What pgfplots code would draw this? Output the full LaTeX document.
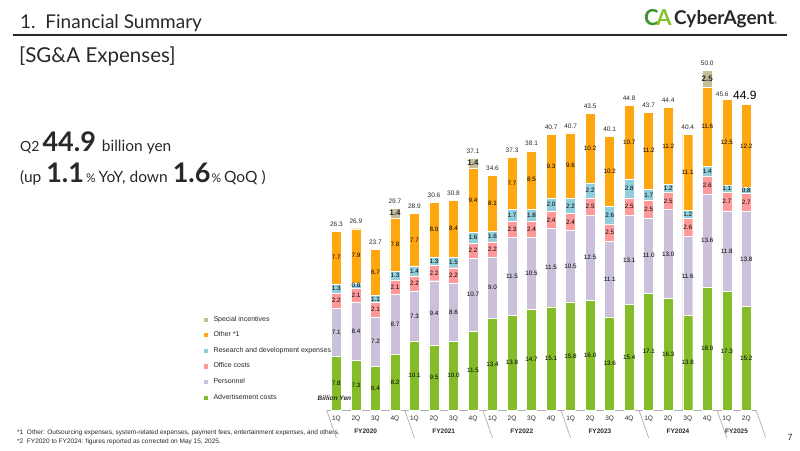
\documentclass[border=0pt]{standalone}
\usepackage{pgfplots}
\pgfplotsset{compat=1.18}
\usepackage{pgfplotstable}
\usepackage{fontspec}
\setmainfont{Liberation Sans}
\newfontfamily\headfont{Lato}

\definecolor{adv}{RGB}{132,189,41}
\definecolor{per}{RGB}{204,193,218}
\definecolor{off}{RGB}{255,153,153}
\definecolor{rnd}{RGB}{146,205,220}
\definecolor{oth}{RGB}{255,167,17}
\definecolor{spe}{RGB}{196,189,151}
\definecolor{txt}{RGB}{40,40,40}
\definecolor{boxgray}{RGB}{175,175,175}
\definecolor{logoC}{RGB}{60,150,45}
\definecolor{logoA}{RGB}{135,195,40}

% SG&A expenses by quarter (billion yen), FY2020 1Q ... FY2025 2Q
\pgfplotstableread{
x  adv  per  off rnd oth  spe tot
0  7.8  7.1  2.2 1.3 7.7  0   26.3
1  7.3  8.4  2.1 0.8 7.9  0   26.9
2  6.4  7.2  2.1 1.1 6.7  0   23.7
3  8.2  8.7  2.1 1.3 7.8  1.4 29.7
4  10.1 7.3  2.2 1.4 7.7  0   28.9
5  9.5  9.4  2.2 1.3 8.0  0   30.6
6  10.0 8.6  2.2 1.5 8.4  0   30.8
7  11.5 10.7 2.2 1.6 9.4  1.4 37.1
8  13.4 9.0  2.2 1.6 8.1  0   34.6
9  13.8 11.5 2.3 1.7 7.7  0   37.3
10 14.7 10.5 2.4 1.8 8.5  0   38.1
11 15.1 11.5 2.4 2.0 9.3  0   40.7
12 15.8 10.5 2.4 2.2 9.6  0   40.7
13 16.0 12.5 2.5 2.2 10.2 0   43.5
14 13.6 11.1 2.5 2.6 10.2 0   40.1
15 15.4 13.1 2.5 2.8 10.7 0   44.8
16 17.1 11.0 2.5 1.7 11.2 0   43.7
17 16.3 13.0 2.5 1.2 11.2 0   44.4
18 13.8 11.6 2.6 1.2 11.1 0   40.4
19 18.0 13.6 2.6 1.4 11.6 2.5 50.0
20 17.3 11.8 2.7 1.1 12.5 0   45.6
21 15.2 13.8 2.7 0.8 12.2 0   44.9
}\sga

\pgfplotsset{
  geom/.style={at={(326.6pt,40pt)}, anchor=south west,
    x=19.52pt, y=6.84pt, xmin=-0.5, xmax=21.5, ymin=0, ymax=52, clip=false},
  sq legend/.style={legend image code/.code={\fill[##1] (0pt,-2.6pt) rectangle (5.2pt,2.6pt); \path (8pt,0pt);}},
  seg/.style={draw=white, line width=0.4pt, sq legend},
}
\tikzset{fylab/.style={font=\fontsize{6.5}{7}\selectfont\bfseries, text=txt, inner sep=0pt, yshift=-21pt}}
\newcommand\sm{\fontsize{15.5}{17}\selectfont\mdseries}
\newcommand\bg{\fontsize{27}{30}\selectfont\bfseries}
\newcommand\pc{\fontsize{12}{14}\selectfont\mdseries}

\begin{document}
\begin{tikzpicture}
\useasboundingbox (0,0) rectangle (800pt,450pt);

% header
\node[anchor=base west, inner sep=0pt, text=txt, font=\headfont\fontsize{19}{22}\selectfont] at (20pt,421pt) {1.\ \ Financial Summary};
\draw[txt, line width=1.8pt] (13pt,415pt) -- (787pt,415pt);
\node[anchor=base west, inner sep=0pt, text=txt, font=\headfont\fontsize{20.5}{23}\selectfont] at (19pt,387pt) {[SG\&A Expenses]};

% logo
\node[anchor=base west, inner sep=0pt, font=\headfont\bfseries\fontsize{22}{23}\selectfont] at (644pt,424pt) {\textcolor{logoC}{C}\kern-2.5pt\textcolor{logoA}{A}};
\node[anchor=base west, inner sep=0pt, text=txt, font=\headfont\bfseries\fontsize{19}{21}\selectfont] at (674pt,425pt) {CyberAgent};
\node[anchor=base west, inner sep=0pt, text=txt, font=\fontsize{4}{4}\selectfont] at (774pt,425pt) {®};

% headline figures
\node[anchor=base west, inner sep=0pt, text=txt] at (20pt,298pt)
  {\headfont\fontsize{14}{16}\selectfont Q2\kern3pt\bg 44.9\kern6pt\sm billion yen};
\node[anchor=base west, inner sep=0pt, text=txt] at (20pt,267pt)
  {\headfont\sm (up\kern5pt\bg 1.1\kern2pt\pc\%\kern3pt\sm YoY, down\kern5pt\bg 1.6\kern1pt\pc\%\kern3pt\sm QoQ )};

% footnotes and page number
\node[anchor=base west, inner sep=0pt, text=txt, font=\fontsize{6.5}{7}\selectfont] at (17pt,16pt)
  {*1\ \ Other: Outsourcing expenses, system-related expenses, payment fees, entertainment expenses, and others.};
\node[anchor=base west, inner sep=0pt, text=txt, font=\fontsize{6.5}{7}\selectfont] at (17pt,7pt)
  {*2\ \ FY2020 to FY2024: figures reported as corrected on May 15, 2025.};
\node[anchor=base, inner sep=0pt, text=txt, font=\fontsize{9}{10}\selectfont] at (790pt,10pt) {7};

% stacked bars
\begin{axis}[geom,
  ybar stacked, bar width=10pt,
  axis x line*=bottom, axis y line=none,
  x axis line style={draw=none},
  xtick={0,...,21},
  xticklabels={1Q,2Q,3Q,4Q,1Q,2Q,3Q,4Q,1Q,2Q,3Q,4Q,1Q,2Q,3Q,4Q,1Q,2Q,3Q,4Q,1Q,2Q},
  major tick length=0pt,
  xticklabel style={font=\fontsize{6.5}{7}\selectfont, text=txt, anchor=center, yshift=-9pt},
  reverse legend,
  legend cell align=left,
  legend style={at={(-0.288,0.2699)}, anchor=north west, draw=none, fill=none,
    font=\fontsize{7}{8}\selectfont, text=txt, row sep=5pt, inner sep=0pt},
]
\addplot[seg, fill=adv] table[x=x, y=adv] {\sga};
\addlegendentry{Advertisement costs}
\addplot[seg, fill=per] table[x=x, y=per] {\sga};
\addlegendentry{Personnel}
\addplot[seg, fill=off] table[x=x, y=off] {\sga};
\addlegendentry{Office costs}
\addplot[seg, fill=rnd] table[x=x, y=rnd] {\sga};
\addlegendentry{Research and development expenses}
\addplot[seg, fill=oth] table[x=x, y=oth] {\sga};
\addlegendentry{Other *1}
\addplot[seg, fill=spe] table[x=x, y=spe] {\sga};
\addlegendentry{Special incentives}

% category frame below the bars
\draw[boxgray, line width=0.7pt] (axis cs:-0.5,0) -- (axis cs:21.5,0);
\pgfplotsinvokeforeach{-0.5,3.5,7.5,11.5,15.5,19.5,21.5}{
  \draw[boxgray, line width=0.7pt] (axis cs:#1,0) -- ++(0,-28pt);
}
\node[fylab] at (axis cs:1.5,0) {FY2020};
\node[fylab] at (axis cs:5.5,0) {FY2021};
\node[fylab] at (axis cs:9.5,0) {FY2022};
\node[fylab] at (axis cs:13.5,0) {FY2023};
\node[fylab] at (axis cs:17.5,0) {FY2024};
\node[fylab] at (axis cs:20.5,0) {FY2025};
\end{axis}

% value labels
\begin{axis}[geom, axis lines=none,
  nodes near coords, point meta=explicit symbolic,
  every node near coord/.append style={anchor=center, font=\fontsize{6.3}{7}\selectfont, text=black, inner sep=0pt},
]
\addplot[draw=none] table[x=x, y expr=\thisrow{adv}/2, meta=adv] {\sga};
\addplot[draw=none] table[x=x, y expr=\thisrow{adv}+\thisrow{per}/2, meta=per] {\sga};
\addplot[draw=none] table[x=x, y expr=\thisrow{adv}+\thisrow{per}+\thisrow{off}/2, meta=off] {\sga};
\addplot[draw=none] table[x=x, y expr=\thisrow{adv}+\thisrow{per}+\thisrow{off}+\thisrow{rnd}/2, meta=rnd] {\sga};
\addplot[draw=none] table[x=x, y expr=\thisrow{adv}+\thisrow{per}+\thisrow{off}+\thisrow{rnd}+\thisrow{oth}/2, meta=oth] {\sga};
\addplot[draw=none, restrict expr to domain={\thisrow{spe}}{0.1:100},
  every node near coord/.append style={font=\fontsize{8}{9}\selectfont\bfseries, text=txt}]
  table[x=x, y expr=\thisrow{adv}+\thisrow{per}+\thisrow{off}+\thisrow{rnd}+\thisrow{oth}+\thisrow{spe}/2, meta=spe] {\sga};
% quarterly totals above the bars
\addplot[draw=none, restrict expr to domain={\thisrow{x}}{0:19},
  every node near coord/.append style={yshift=7pt, font=\fontsize{6.5}{7}\selectfont, text=txt}]
  table[x=x, y expr=\thisrow{adv}+\thisrow{per}+\thisrow{off}+\thisrow{rnd}+\thisrow{oth}+\thisrow{spe}, meta=tot] {\sga};
\addplot[draw=none, restrict expr to domain={\thisrow{x}}{20:20},
  every node near coord/.append style={yshift=5.5pt, xshift=-4.5pt, font=\fontsize{6.5}{7}\selectfont, text=txt}]
  table[x=x, y expr=\thisrow{adv}+\thisrow{per}+\thisrow{off}+\thisrow{rnd}+\thisrow{oth}+\thisrow{spe}, meta=tot] {\sga};
\addplot[draw=none, restrict expr to domain={\thisrow{x}}{21:21},
  every node near coord/.append style={anchor=base, yshift=4.5pt, xshift=-1.5pt, font=\fontsize{12}{14}\selectfont, text=black}]
  table[x=x, y expr=\thisrow{adv}+\thisrow{per}+\thisrow{off}+\thisrow{rnd}+\thisrow{oth}+\thisrow{spe}, meta=tot] {\sga};
\node[font=\fontsize{6.5}{7}\selectfont\bfseries\itshape, text=txt, inner sep=0pt, yshift=12pt] at (axis cs:-0.1,0) {Billion Yen};
\end{axis}
\end{tikzpicture}
\end{document}
